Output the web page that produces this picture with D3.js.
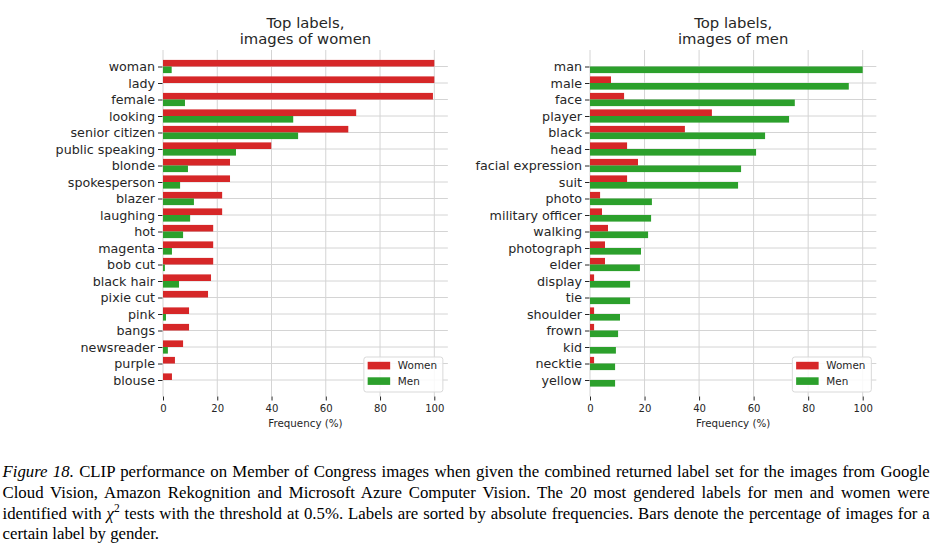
<!DOCTYPE html>
<html>
<head>
<meta charset="utf-8">
<script src="https://cdn.jsdelivr.net/npm/d3@7"></script>
<style>
  html, body { margin: 0; padding: 0; background: #fff; }
  svg { display: block; }
</style>
</head>
<body>
<svg id="chart" width="937" height="552"></svg>
<script>
// ---------------- data ----------------
const seriesNames = ["Women", "Men"];
const xTickValues = [0, 20, 40, 60, 80, 100];
const xAxisLabel = "Frequency (%)";

const womenTitle = ["Top labels,", "images of women"];
const womenLabels = ["woman","lady","female","looking","senior citizen","public speaking","blonde","spokesperson","blazer","laughing","hot","magenta","bob cut","black hair","pixie cut","pink","bangs","newsreader","purple","blouse"];
const womenPanelWomen = [100,100,99.5,71.2,68.3,39.9,24.7,24.7,21.8,21.8,18.5,18.5,18.5,17.7,16.6,9.6,9.6,7.4,4.4,3.3];
const womenPanelMen   = [3.2,0,8.1,48.0,49.8,26.9,9.2,6.3,11.4,10.0,7.4,3.3,0.7,5.9,0,1.1,0,1.8,0,0];

const menTitle = ["Top labels,", "images of men"];
const menLabels = ["man","male","face","player","black","head","facial expression","suit","photo","military officer","walking","photograph","elder","display","tie","shoulder","frown","kid","necktie","yellow"];
const menPanelWomen = [0,7.7,12.5,44.7,34.8,13.6,17.6,13.6,3.7,4.4,6.6,5.5,5.5,1.5,0,1.5,1.5,0,1.5,0];
const menPanelMen   = [100,94.9,75.1,73.0,64.2,60.9,55.4,54.3,22.7,22.4,21.3,18.7,18.3,14.7,14.7,11.0,10.3,9.5,9.2,9.2];

const captionLines = [
  "CLIP performance on Member of Congress images when given the combined returned label set for the images from Google",
  "Cloud Vision, Amazon Rekognition and Microsoft Azure Computer Vision. The 20 most gendered labels for men and women were",
  " tests with the threshold at 0.5%. Labels are sorted by absolute frequencies. Bars denote the percentage of images for a",
  "certain label by gender."
];

// ---------------- style ----------------
const COLORS = { Women: "#d62728", Men: "#2ca02c" };
const TEXT = "#262626";
const GRID = "#d4d4d4";
const SANS = "'DejaVu Sans', sans-serif";
const SERIF = "'Liberation Serif', 'Times New Roman', serif";

const svg = d3.select("#chart");

function drawPanel(cfg) {
  const g = svg.append("g");
  const top = 50, bottom = 396.5;
  const x = d3.scaleLinear().domain([0, 105]).range([cfg.x0, cfg.x0 + 105 * cfg.pxPer]);
  const y = d3.scaleLinear().domain([-1, 20]).range([top, bottom]);
  const step = y(1) - y(0);
  const bh = 0.4 * step;
  const idx = d3.range(cfg.labels.length);

  // grid
  g.append("g").selectAll("line.v").data(xTickValues).join("line")
    .attr("x1", d => x(d)).attr("x2", d => x(d))
    .attr("y1", top).attr("y2", bottom)
    .attr("stroke", GRID).attr("stroke-width", 1);
  g.append("g").selectAll("line.h").data(idx).join("line")
    .attr("x1", x.range()[0]).attr("x2", x.range()[1])
    .attr("y1", d => y(d)).attr("y2", d => y(d))
    .attr("stroke", GRID).attr("stroke-width", 1);

  // bars
  g.append("g").selectAll("rect").data(idx).join("rect")
    .attr("x", x(0)).attr("y", i => y(i) - bh)
    .attr("width", i => x(cfg.women[i]) - x(0)).attr("height", bh)
    .attr("fill", COLORS.Women);
  g.append("g").selectAll("rect").data(idx).join("rect")
    .attr("x", x(0)).attr("y", i => y(i))
    .attr("width", i => x(cfg.men[i]) - x(0)).attr("height", bh)
    .attr("fill", COLORS.Men);

  // y axis
  const ya = g.append("g").attr("transform", `translate(${x(0) - 0.5},0)`)
    .call(d3.axisLeft(y).tickValues(idx).tickFormat(i => cfg.labels[i]).tickSize(4.5).tickPadding(3));
  ya.select(".domain").remove();
  ya.selectAll("line").attr("stroke", TEXT).attr("stroke-width", 1);
  ya.selectAll("text").attr("font-family", SANS).attr("font-size", "12.7px").attr("fill", TEXT);

  // x axis
  const xa = g.append("g").attr("transform", `translate(0,${bottom})`)
    .call(d3.axisBottom(x).tickValues(xTickValues).tickSize(4).tickPadding(4));
  xa.select(".domain").remove();
  xa.selectAll("line").attr("stroke", TEXT).attr("stroke-width", 1);
  xa.selectAll("text").attr("font-family", SANS).attr("font-size", "10.1px").attr("fill", TEXT);

  const cx = (x.range()[0] + x.range()[1]) / 2;
  g.append("text").attr("x", cx).attr("y", 426.5).attr("text-anchor", "middle")
    .attr("font-family", SANS).attr("font-size", "10.3px").attr("fill", TEXT).text(xAxisLabel);

  // title
  g.append("text").attr("text-anchor", "middle")
    .attr("font-family", SANS).attr("font-size", "14.8px").attr("fill", TEXT)
    .selectAll("tspan").data(cfg.title).join("tspan")
    .attr("x", cx).attr("y", (d, i) => 27.5 + i * 16.8).text(d => d);

  // legend
  const lw = 79, lh = 35;
  const lx = x.range()[1] - 5 - lw, ly = 357;
  const lg = g.append("g");
  lg.append("rect").attr("x", lx).attr("y", ly).attr("width", lw).attr("height", lh)
    .attr("rx", 2.5).attr("fill", "#fff").attr("fill-opacity", 0.85)
    .attr("stroke", "#d9d9d9").attr("stroke-width", 1);
  seriesNames.forEach((s, k) => {
    lg.append("rect").attr("x", lx + 3.8).attr("y", ly + 4.8 + k * 15.5)
      .attr("width", 22.5).attr("height", 7.6).attr("fill", COLORS[s]);
    lg.append("text").attr("x", lx + 34).attr("y", ly + 12.4 + k * 15.5)
      .attr("font-family", SANS).attr("font-size", "10.4px").attr("fill", TEXT).text(s);
  });
}

drawPanel({ x0: 163, pxPer: 2.713, labels: womenLabels, women: womenPanelWomen, men: womenPanelMen, title: womenTitle });
drawPanel({ x0: 590, pxPer: 2.727, labels: menLabels, women: menPanelWomen, men: menPanelMen, title: menTitle });

// ---------------- caption ----------------
const capX0 = 2.5, capX1 = 929.8, capFS = 16.8;
const baselines = [477.3, 498.0, 518.7, 539.4];
const cap = svg.append("g").attr("font-family", SERIF).attr("font-size", capFS + "px").attr("fill", "#000");

function justify(t) {
  const txt = t.text();
  const nSpaces = (txt.match(/ /g) || []).length;
  const w = t.node().getComputedTextLength();
  if (nSpaces > 0) t.attr("word-spacing", ((capX1 - capX0) - w) / nSpaces);
}

const l1 = cap.append("text").attr("x", capX0).attr("y", baselines[0]);
l1.append("tspan").attr("font-style", "italic").text("Figure 18.");
l1.append("tspan").text(" " + captionLines[0]);
justify(l1);

const l2 = cap.append("text").attr("x", capX0).attr("y", baselines[1]).text(captionLines[1]);
justify(l2);

const l3 = cap.append("text").attr("x", capX0).attr("y", baselines[2]);
l3.append("tspan").text("identified with ");
l3.append("tspan").attr("font-style", "italic").text("χ");
l3.append("tspan").attr("font-size", "11.5px").attr("dy", -7).text("2");
l3.append("tspan").attr("dy", 7).text(captionLines[2]);
justify(l3);

cap.append("text").attr("x", capX0).attr("y", baselines[3]).text(captionLines[3]);
</script>
</body>
</html>
